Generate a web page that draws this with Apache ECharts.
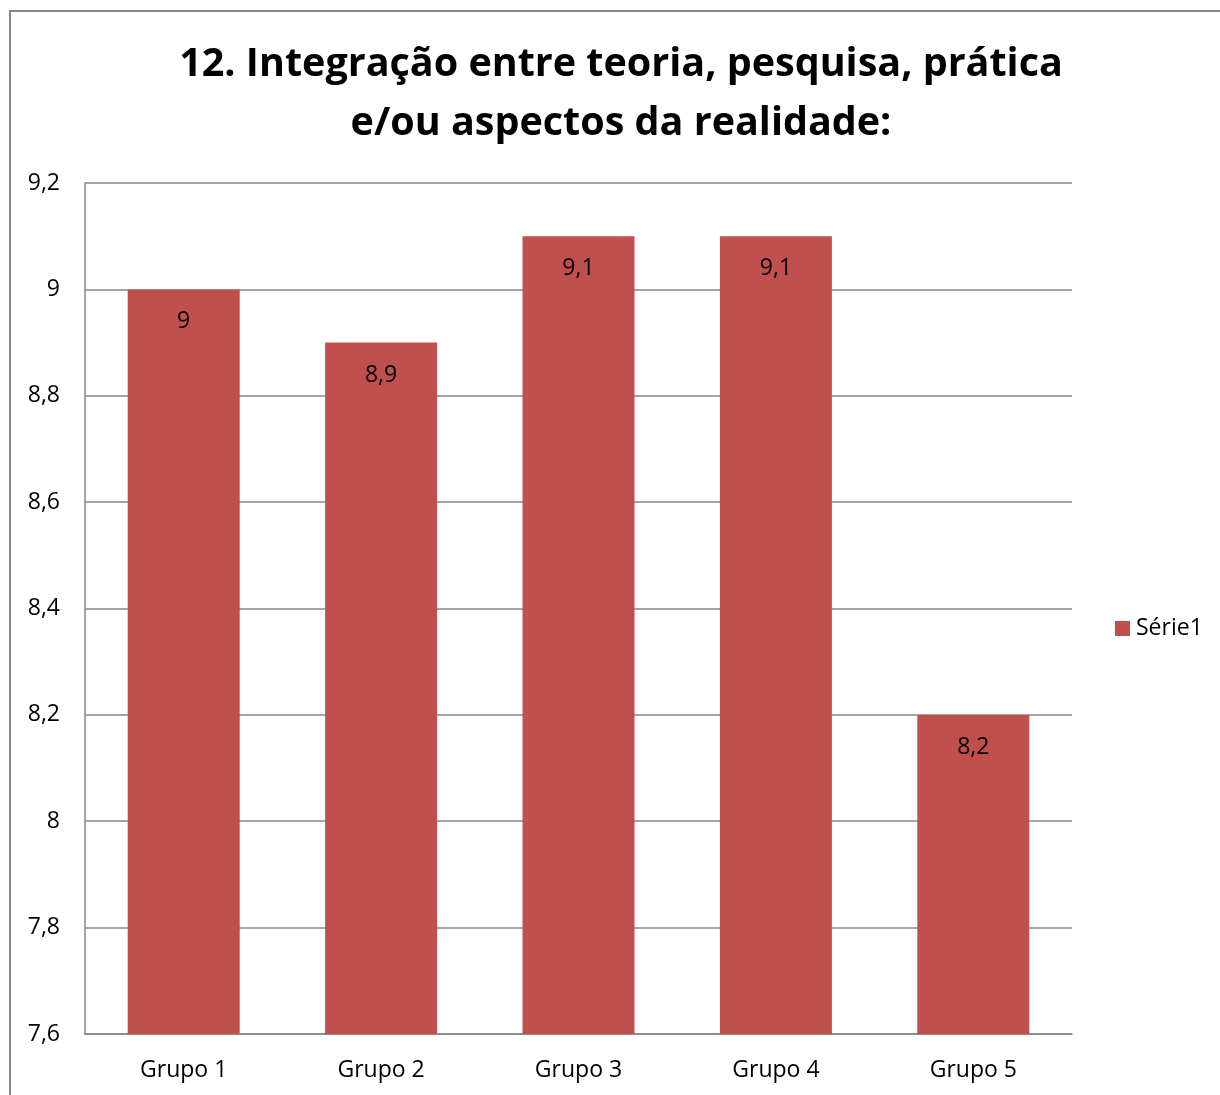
<!DOCTYPE html>
<html>
<head>
<meta charset="utf-8">
<title>12. Integração entre teoria, pesquisa, prática e/ou aspectos da realidade</title>
<script src="https://cdn.jsdelivr.net/npm/echarts@6/dist/echarts.min.js"></script>
<style>
  html, body { margin: 0; padding: 0; background: #fff; }
  #chart { width: 1220px; height: 1095px; }
</style>
</head>
<body>
<div id="chart"></div>
<script>
// dados do gráfico
var categorias = ["Grupo 1", "Grupo 2", "Grupo 3", "Grupo 4", "Grupo 5"];
var valores = [9, 8.9, 9.1, 9.1, 8.2];
var nomeSerie = "Série1";
var tituloLinhas = ["12. Integração entre teoria, pesquisa, prática", "e/ou aspectos da realidade:"];

var fonte = "'Open Sans', 'Noto Sans', sans-serif";

function virgula(v) {
  // 8.9 -> "8,9"
  return String(Math.round(v * 10) / 10).replace(".", ",");
}

var chart = echarts.init(document.getElementById("chart"));
chart.setOption({
  animation: false,
  color: ["#C0504D"],
  title: {
    text: tituloLinhas.join("\n"),
    left: 616,
    textAlign: "center",
    top: 30,
    textStyle: {
      fontFamily: fonte,
      fontSize: 39.5,
      fontWeight: "bold",
      color: "#000",
      lineHeight: 59
    }
  },
  graphic: [
    {
      type: "rect",
      shape: { x: 10, y: 11, width: 1220, height: 1100 },
      style: { fill: null, stroke: "#878787", lineWidth: 2 },
      silent: true
    }
  ],
  legend: {
    data: [nomeSerie],
    left: 1115,
    top: 617,
    padding: 0,
    icon: "rect",
    itemWidth: 15,
    itemHeight: 15,
    textStyle: { fontFamily: fonte, fontSize: 23, color: "#000", padding: [0, 0, 0, 1] }
  },
  grid: { left: 85, right: 148, top: 183, bottom: 61, containLabel: false },
  xAxis: {
    type: "category",
    data: categorias,
    axisLine: { lineStyle: { color: "#878787", width: 1.5 } },
    axisTick: { show: false },
    axisLabel: { fontFamily: fonte, fontSize: 23, color: "#000", margin: 25 }
  },
  yAxis: {
    type: "value",
    min: 7.6,
    max: 9.2,
    interval: 0.2,
    axisLine: { show: true, lineStyle: { color: "#878787", width: 1.5 } },
    axisTick: { show: false },
    splitLine: { lineStyle: { color: "#878787", width: 1.5 } },
    axisLabel: {
      fontFamily: fonte,
      fontSize: 23,
      color: "#000",
      margin: 25,
      formatter: function (v) { return virgula(v); }
    }
  },
  series: [
    {
      name: nomeSerie,
      type: "bar",
      data: valores,
      barWidth: 112,
      label: {
        show: true,
        position: "insideTop",
        distance: 21,
        fontFamily: fonte,
        fontSize: 23,
        color: "#000",
        formatter: function (p) { return virgula(p.value); }
      }
    }
  ]
});
</script>
</body>
</html>
